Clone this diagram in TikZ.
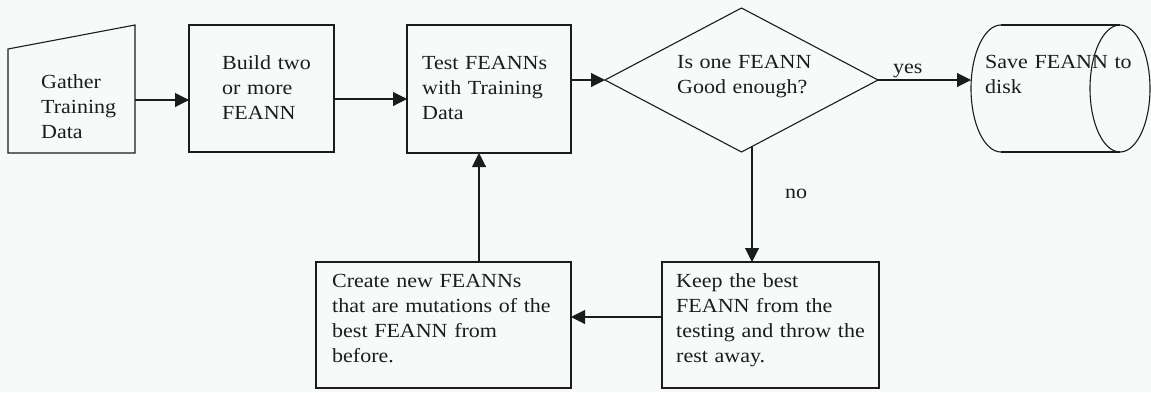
\documentclass[tikz,border=0pt]{standalone}
\usepackage{fontspec}
\setmainfont[FakeStretch=1.1]{Liberation Serif}
\usetikzlibrary{arrows.meta,calc}
\definecolor{bg}{RGB}{246,250,248}
\definecolor{ink}{RGB}{28,28,28}

\begin{document}
\begin{tikzpicture}[x=1pt,y=-1pt,
  frame/.style={inner sep=0pt, outer sep=0pt, rectangle},
  box/.style={frame, draw=ink, line width=1.1pt},
  outline/.style={draw=ink, line width=1.1pt, line join=miter},
  txt/.style={inner sep=0pt, anchor=base west, align=left, text width=#1,
    font=\fontsize{20}{25}\selectfont, text=ink},
  txt/.default=260pt,
  flow/.style={draw=ink, line width=1.1pt, -{Triangle[length=14pt,width=14pt]}},
]
\fill[bg] (0,0) rectangle (1151,392);
\useasboundingbox (0,0) rectangle (1151,392);

% manual input: gather training data
\node[frame, minimum width=127pt, minimum height=128pt] (gather) at (71.5,89) {};
\draw[outline] (gather.south west) -- (gather.south east) -- (gather.north east)
  -- ([yshift=-24pt]gather.north west) -- cycle;
\node[txt=110pt] (tgather) at (41,88) {Gather\\Training\\Data};

% process boxes
\node[box, minimum width=145pt, minimum height=127pt] (build) at (261.5,88.5) {};
\node[txt=110pt] (tbuild) at (222,69) {Build two\\or more\\FEANN};

\node[box, minimum width=164pt, minimum height=128pt] (test) at (489,89) {};
\node[txt=150pt] (ttest) at (422,69) {Test FEANNs\\with Training\\Data};

% decision diamond
\node[frame, minimum width=273pt, minimum height=144pt] (dec) at (741.5,80) {};
\draw[outline] (dec.north) -- (dec.east) -- (dec.south) -- (dec.west) -- cycle;
\node[txt=180pt] (tdec) at (677,68) {Is one FEANN\\Good enough?};

% stored data: horizontal cylinder
\node[frame, minimum width=179pt, minimum height=127pt] (store) at (1060.5,88.5) {};
\draw[outline] ([xshift=30pt]store.north west) -- ([xshift=-30pt]store.north east);
\draw[outline] ([xshift=30pt]store.south west) -- ([xshift=-30pt]store.south east);
\draw[outline] ([xshift=30pt]store.north west)
  arc[start angle=90, end angle=270, x radius=30pt, y radius=63.5pt];
\draw[outline] ([xshift=-30pt]store.east) ellipse [x radius=30pt, y radius=63.5pt];
\node[txt=170pt] (tstore) at (985,68) {Save FEANN to\\disk};

% lower row
\node[box, minimum width=217pt, minimum height=126pt] (keep) at (770.5,325) {};
\node[txt=200pt] (tkeep) at (676,287) {Keep the best\\FEANN from the\\testing and throw the\\rest away.};

\node[box, minimum width=255pt, minimum height=126pt] (create) at (443.5,325) {};
\node[txt=240pt] (tcreate) at (332,287) {Create new FEANNs\\that are mutations of the\\best FEANN from\\before.};

% connectors
\draw[flow] (gather.east |- 0,100) -- (build.west |- 0,100);
\draw[flow] (build.east |- 0,99) -- (test.west |- 0,99);
\draw[flow] (test.east |- dec.west) -- (dec.west);
\draw[flow] (dec.east) -- (store.west |- dec.east);
\node[txt=40pt] (yes) at (893,73) {yes};

\coordinate (nofork) at (752,147);
\draw[flow] (nofork) -- (nofork |- keep.north);
\node[txt=40pt] (no) at (785,198) {no};

\draw[flow] (keep.west |- 0,317) -- (create.east |- 0,317);
\draw[flow] (create.north -| 479,0) -- (test.south -| 479,0);
\end{tikzpicture}
\end{document}
